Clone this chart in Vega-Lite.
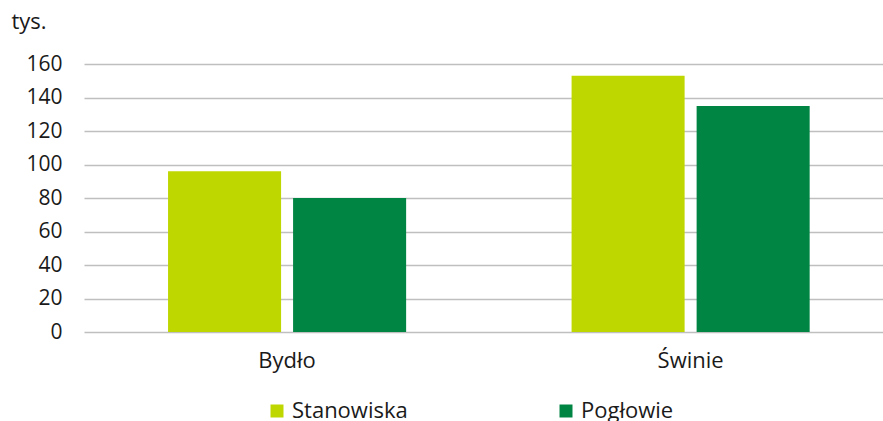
{
  "$schema": "https://vega.github.io/schema/vega-lite/v6.json",
  "autosize": "none",
  "width": 799,
  "height": 268,
  "padding": {"left": 84, "top": 64, "right": 0, "bottom": 89},
  "background": "white",
  "config": {
    "font": "Open Sans",
    "view": {"stroke": null}
  },
  "data": {
    "values": [
      {"kategoria": "Bydło", "seria": "Stanowiska", "wartosc": 96},
      {"kategoria": "Bydło", "seria": "Pogłowie", "wartosc": 80},
      {"kategoria": "Świnie", "seria": "Stanowiska", "wartosc": 153},
      {"kategoria": "Świnie", "seria": "Pogłowie", "wartosc": 135}
    ]
  },
  "mark": {"type": "bar"},
  "encoding": {
    "x": {
      "field": "kategoria",
      "type": "nominal",
      "sort": ["Bydło", "Świnie"],
      "scale": {"paddingInner": 0.41, "paddingOuter": 0.195, "align": 0.534},
      "axis": {
        "title": null,
        "labelAngle": 0,
        "ticks": false,
        "domain": false,
        "labelFontSize": 22,
        "labelColor": "#1a1a1a",
        "labelPadding": 18
      }
    },
    "xOffset": {
      "field": "seria",
      "type": "nominal",
      "sort": ["Stanowiska", "Pogłowie"],
      "scale": {"paddingInner": 0.096, "paddingOuter": 0}
    },
    "y": {
      "field": "wartosc",
      "type": "quantitative",
      "scale": {"domain": [0, 160], "nice": false},
      "axis": {
        "values": [0, 20, 40, 60, 80, 100, 120, 140, 160],
        "title": "tys.",
        "titleAngle": 0,
        "titleAlign": "left",
        "titleBaseline": "alphabetic",
        "titleX": -73,
        "titleY": -36,
        "titleFontSize": 22,
        "titleFontWeight": "normal",
        "titleColor": "#1a1a1a",
        "ticks": false,
        "domain": false,
        "labelFontSize": 21,
        "labelColor": "#1a1a1a",
        "labelPadding": 22,
        "gridColor": "#bfbfbf",
        "gridWidth": 1.5
      }
    },
    "color": {
      "field": "seria",
      "type": "nominal",
      "sort": ["Stanowiska", "Pogłowie"],
      "scale": {"domain": ["Stanowiska", "Pogłowie"], "range": ["#bfd700", "#008542"]},
      "legend": {
        "title": null,
        "orient": "none",
        "direction": "horizontal",
        "columns": 2,
        "legendX": 182,
        "legendY": 336,
        "symbolType": "square",
        "symbolSize": 169,
        "symbolStrokeWidth": 0,
        "symbolOpacity": 1,
        "labelFontSize": 22,
        "labelColor": "#1a1a1a",
        "labelOffset": 4,
        "columnPadding": 147
      }
    }
  }
}
